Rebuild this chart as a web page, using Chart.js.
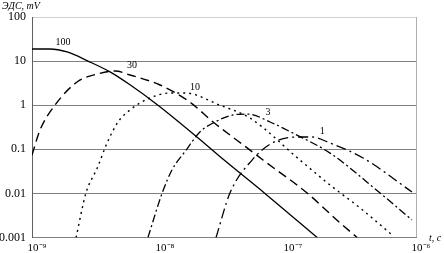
<!DOCTYPE html>
<html>
<head>
<meta charset="utf-8">
<script src="https://cdn.jsdelivr.net/npm/chart.js@4"></script>
<style>
  body { margin: 0; background: #fff; }
  #wrap { width: 444px; height: 253px; }
</style>
</head>
<body>
<div id="wrap"><canvas id="chart_tem" width="444" height="253"></canvas></div>
<script>
// time (s) and EMF (mV), one pair of arrays per curve
const t100 = [1.0e-9, 1.38e-9, 1.88e-9, 2.74e-9, 4.07e-9, 5.83e-9, 9.64e-9, 2.05e-8, 3.1e-8, 6.6e-8, 1.69e-7];
const e100 = [18.8, 18.8, 16.1, 10, 5.7, 2.9, 1.0, 0.167, 0.06, 0.010, 0.001];

const t30 = [1.0e-9, 1.155e-9, 1.51e-9, 2.25e-9, 3.24e-9, 4.47e-9, 5.83e-9, 1.0e-8, 1.71e-8, 2.6e-8, 5.05e-8, 6.38e-8, 1.41e-7, 2.55e-7, 3.47e-7];
const e30 = [0.074, 0.274, 1.0, 3.36, 5.09, 5.97, 4.84, 2.87, 1.18, 0.416, 0.096, 0.057, 0.0102, 0.00214, 0.001];

const t10 = [2.21e-9, 2.64e-9, 3.24e-9, 3.86e-9, 4.7e-9, 5.83e-9, 8.36e-9, 1.2e-8, 1.57e-8, 2.94e-8, 5.05e-8, 1.24e-7, 2.13e-7, 3.65e-7, 6.49e-7];
const e10 = [0.001, 0.0102, 0.038, 0.139, 0.416, 0.78, 1.46, 1.89, 1.89, 1.0, 0.51, 0.057, 0.0155, 0.0047, 0.00115];

const t3 = [8.05e-9, 1.04e-8, 1.24e-8, 1.6e-8, 2.05e-8, 2.69e-8, 3.72e-8, 4.87e-8, 7.24e-8, 1.09e-7, 2.13e-7, 5.24e-7, 9.3e-7];
const e3 = [0.001, 0.0102, 0.034, 0.096, 0.247, 0.416, 0.6, 0.63, 0.416, 0.234, 0.082, 0.0102, 0.0025];

const t1 = [2.74e-8, 3.52e-8, 5.24e-8, 7.5e-8, 1.17e-7, 1.54e-7, 2.13e-7, 3.86e-7, 9.3e-7];
const e1 = [0.001, 0.0102, 0.057, 0.139, 0.19, 0.19, 0.139, 0.0636, 0.0108];

const curveNames = ["100", "30", "10", "3", "1"];
// where each curve's number sits (data coords)
const labelT = [1.75e-9, 6.04e-9, 1.88e-8, 6.98e-8, 1.85e-7];
const labelE = [27, 8.2, 2.6, 0.67, 0.26];

const xTicks = [1e-9, 1e-8, 1e-7, 1e-6];
const xTickLabels = ["10\u207B\u2079", "10\u207B\u2078", "10\u207B\u2077", "10\u207B\u2076"];
const yTicks = [0.001, 0.01, 0.1, 1, 10, 100];
const yTickLabels = ["0.001", "0.01", "0.1", "1", "10", "100"];

function pairs(ts, es) {
  return ts.map((t, i) => ({ x: t, y: es[i] }));
}

function makeSet(name, ts, es, dash, width) {
  return {
    label: name,
    data: pairs(ts, es),
    showLine: true,
    borderColor: "#000",
    borderWidth: width,
    borderDash: dash,
    pointRadius: 0,
    cubicInterpolationMode: "monotone",
    fill: false,
  };
}

// curve numbers and axis titles
const textPlugin = {
  id: "texts",
  afterDraw(chart) {
    const ctx = chart.ctx;
    const xs = chart.scales.x;
    const ys = chart.scales.y;
    ctx.save();
    ctx.fillStyle = "#000";
    ctx.textAlign = "center";
    ctx.textBaseline = "middle";
    ctx.font = "10px 'Liberation Serif'";
    curveNames.forEach((n, i) => {
      ctx.fillText(n, xs.getPixelForValue(labelT[i]), ys.getPixelForValue(labelE[i]));
    });
    ctx.font = "italic 10px 'Liberation Serif'";
    ctx.textAlign = "left";
    ctx.fillText("ЭДС, mV", 2, 6);
    ctx.fillText("t, c", 429, 238);
    ctx.restore();
  },
};

var ctxTem = document.getElementById("chart_tem").getContext("2d");

var temChart = new Chart(ctxTem, {
  type: "scatter",
  data: {
    datasets: [
      makeSet("100", t100, e100, [], 1.3),
      makeSet("30", t30, e30, [9, 5], 1.4),
      makeSet("10", t10, e10, [2, 4], 1.4),
      makeSet("3", t3, e3, [8, 3, 2, 3], 1.3),
      makeSet("1", t1, e1, [10, 4, 2, 4], 1.3),
    ],
  },
  options: {
    responsive: false,
    animation: false,
    layout: {
      padding: { top: 17, right: 28, left: 0, bottom: 0 },
    },
    plugins: {
      legend: { display: false },
      tooltip: { enabled: false },
    },
    scales: {
      x: {
        type: "logarithmic",
        min: 1e-9,
        max: 1e-6,
        afterBuildTicks: (scale) => {
          scale.ticks = xTicks.map((v) => ({ value: v }));
        },
        afterFit: (scale) => {
          scale.height = 15.5;
        },
        ticks: {
          autoSkip: false,
          maxRotation: 0,
          padding: 4,
          labelOffset: 5,
          color: "#000",
          font: { family: "'Liberation Serif'", size: 11 },
          callback: function (value, index) {
            return xTickLabels[index];
          },
        },
        grid: {
          drawTicks: false,
          color: (c) => (c.tick && c.tick.value === 1e-6 ? "#b0b0b0" : "rgba(0,0,0,0)"),
        },
        border: { color: "#808080", width: 1 },
      },
      y: {
        type: "logarithmic",
        min: 0.001,
        max: 100,
        afterBuildTicks: (scale) => {
          scale.ticks = yTicks.map((v) => ({ value: v }));
        },
        afterFit: (scale) => {
          scale.width = 32;
        },
        ticks: {
          autoSkip: false,
          padding: 6,
          color: "#000",
          font: { family: "'Liberation Serif'", size: 12 },
          callback: function (value, index) {
            return yTickLabels[index];
          },
        },
        grid: {
          drawTicks: false,
          color: (c) => (c.tick && c.tick.value === 100 ? "#d0d0d0" : "#808080"),
        },
        border: { color: "#606060", width: 1 },
      },
    },
  },
  plugins: [textPlugin],
});
</script>
</body>
</html>
